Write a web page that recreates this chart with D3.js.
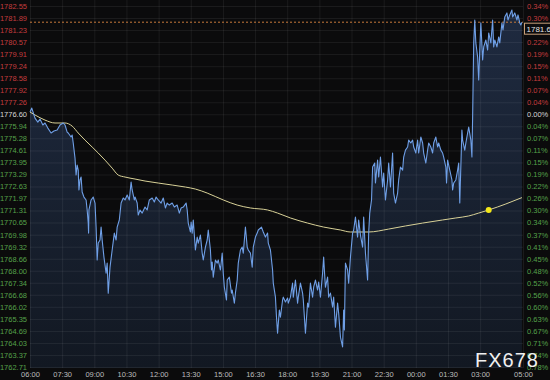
<!DOCTYPE html>
<html>
<head>
<meta charset="utf-8">
<script src="https://cdn.jsdelivr.net/npm/d3@7"></script>
<style>
  html, body { margin: 0; padding: 0; background: #0b0b0c; }
  svg { display: block; }
  text { font-family: "Liberation Sans", Arial, sans-serif; }
</style>
</head>
<body>
<div id="chart"></div>
<script>
// previous close / current quote
var prevClose = 1776.60
var lastPrice = 1781.66
var dotTime = "03:24"

var yTickLabels = ["1782.55","1781.89","1781.23","1780.57","1779.91","1779.24","1778.58","1777.92","1777.26","1776.60",
  "1775.94","1775.28","1774.61","1773.95","1773.29","1772.63","1771.97","1771.31","1770.65","1769.98",
  "1769.32","1768.66","1768.00","1767.34","1766.68","1766.02","1765.35","1764.69","1764.03","1763.37","1762.71"]
var pctTickLabels = ["0.34%","0.30%","0.26%","0.22%","0.19%","0.15%","0.11%","0.07%","0.04%","0.00%",
  "0.04%","0.07%","0.11%","0.15%","0.19%","0.22%","0.26%","0.30%","0.34%","0.37%",
  "0.41%","0.45%","0.48%","0.52%","0.56%","0.60%","0.63%","0.67%","0.71%","0.74%","0.78%"]
var xTickLabels = ["06:00","07:30","09:00","10:30","12:00","13:30","15:00","16:30","18:00","19:30",
  "21:00","22:30","00:00","01:30","03:00","05:00"]

var priceSeries = [
  ["06:00",1776.72],["06:05",1776.94],["06:14",1776.39],["06:22",1776.17],["06:28",1776.34],["06:36",1776.01],
  ["06:42",1776.12],["06:50",1775.84],["06:59",1775.57],["07:07",1775.68],["07:16",1775.73],["07:24",1776.01],
  ["07:33",1776.12],["07:38",1776.01],["07:44",1775.62],["07:47",1775.57],["07:55",1775.35],["07:58",1775.46],
  ["08:01",1775.02],["08:06",1774.19],["08:09",1773.26],["08:12",1773.81],["08:15",1773.53],["08:17",1772.44],
  ["08:20",1772.99],["08:23",1773.15],["08:26",1772.33],["08:31",1772.05],["08:37",1771.89],["08:40",1771.34],
  ["08:43",1770.62],["08:44",1770.07],["08:45",1771.34],["08:51",1771.89],["08:57",1772.05],["09:02",1771.72],
  ["09:05",1770.40],["09:08",1768.59],["09:11",1769.52],["09:16",1769.69],["09:19",1770.40],["09:22",1769.69],
  ["09:27",1768.75],["09:33",1767.87],["09:36",1768.42],["09:39",1766.77],["09:44",1768.20],["09:50",1769.14],
  ["09:56",1770.07],["10:01",1769.69],["10:04",1770.40],["10:10",1770.79],["10:15",1771.72],["10:21",1772.00],
  ["10:26",1771.89],["10:32",1772.16],["10:38",1771.89],["10:43",1772.88],["10:46",1772.44],["10:52",1771.89],
  ["10:54",1772.05],["11:00",1771.72],["11:03",1771.06],["11:08",1771.34],["11:14",1771.17],["11:22",1771.50],
  ["11:28",1771.34],["11:34",1771.89],["11:42",1772.00],["11:48",1771.78],["11:53",1772.05],["11:59",1771.89],
  ["12:07",1771.72],["12:13",1772.00],["12:19",1771.45],["12:24",1771.72],["12:30",1771.61],["12:38",1771.72],
  ["12:44",1771.50],["12:52",1771.61],["12:58",1771.17],["13:03",1771.45],["13:09",1771.50],["13:17",1771.72],
  ["13:20",1771.34],["13:23",1770.62],["13:29",1770.13],["13:31",1770.68],["13:34",1770.07],["13:37",1770.79],
  ["13:43",1769.14],["13:48",1769.85],["13:51",1769.52],["13:57",1769.96],["14:02",1768.97],["14:05",1768.59],
  ["14:11",1769.30],["14:16",1769.69],["14:19",1770.24],["14:25",1769.14],["14:28",1768.04],["14:30",1768.48],
  ["14:33",1767.65],["14:39",1768.59],["14:44",1768.42],["14:47",1768.59],["14:53",1768.04],["14:58",1768.97],
  ["15:01",1767.87],["15:04",1767.10],["15:10",1766.39],["15:12",1767.49],["15:18",1767.65],["15:24",1766.77],
  ["15:26",1766.94],["15:32",1766.22],["15:35",1766.77],["15:40",1767.49],["15:43",1768.42],["15:49",1769.14],
  ["15:54",1769.30],["15:57",1768.97],["16:03",1770.40],["16:08",1769.30],["16:11",1769.14],["16:17",1768.97],
  ["16:22",1768.20],["16:25",1769.30],["16:31",1769.85],["16:36",1770.07],["16:39",1770.24],["16:48",1770.40],
  ["16:53",1770.13],["16:59",1769.85],["17:05",1770.07],["17:07",1769.52],["17:13",1769.14],["17:19",1768.04],
  ["17:21",1767.32],["17:27",1766.55],["17:30",1765.45],["17:33",1764.57],["17:38",1765.84],["17:41",1765.45],
  ["17:47",1766.39],["17:49",1766.55],["17:55",1766.28],["18:01",1766.50],["18:03",1766.22],["18:09",1766.55],
  ["18:15",1767.32],["18:17",1766.55],["18:23",1767.49],["18:29",1766.22],["18:31",1766.55],["18:37",1767.32],
  ["18:43",1766.77],["18:45",1766.39],["18:51",1764.57],["18:57",1766.22],["19:00",1766.00],["19:05",1767.32],
  ["19:11",1766.55],["19:14",1767.10],["19:19",1767.49],["19:25",1766.94],["19:28",1767.38],["19:33",1766.55],
  ["19:39",1767.87],["19:42",1768.75],["19:44",1768.04],["19:47",1767.10],["19:53",1767.65],["19:56",1766.55],
  ["20:01",1766.77],["20:07",1766.00],["20:10",1766.55],["20:15",1764.90],["20:21",1766.22],["20:24",1765.67],
  ["20:29",1764.35],["20:35",1763.81],["20:38",1765.84],["20:40",1764.74],["20:43",1768.42],["20:49",1768.04],
  ["20:52",1767.32],["20:57",1768.75],["21:03",1770.07],["21:06",1770.24],["21:11",1770.95],["21:17",1769.85],
  ["21:20",1770.79],["21:25",1769.96],["21:31",1769.30],["21:34",1770.95],["21:39",1768.97],["21:45",1767.49],
  ["21:48",1770.07],["21:51",1771.17],["21:56",1771.89],["21:59",1773.70],["22:05",1773.92],["22:07",1772.82],
  ["22:13",1774.08],["22:16",1773.15],["22:21",1774.25],["22:27",1772.60],["22:30",1773.37],["22:35",1771.89],
  ["22:41",1772.99],["22:44",1773.92],["22:49",1772.60],["22:55",1774.47],["22:58",1772.27],["23:03",1771.72],
  ["23:09",1772.27],["23:12",1772.99],["23:17",1773.70],["23:23",1773.53],["23:26",1774.25],["23:31",1774.63],
  ["23:37",1774.80],["23:40",1775.18],["23:46",1775.02],["23:51",1775.18],["23:54",1774.80],["00:00",1774.47],
  ["00:05",1775.18],["00:08",1774.47],["00:14",1775.35],["00:19",1775.02],["00:22",1774.47],["00:28",1773.92],
  ["00:33",1774.63],["00:36",1775.02],["00:42",1774.80],["00:47",1774.47],["00:50",1775.02],["00:56",1775.35],
  ["01:01",1774.80],["01:04",1775.02],["01:10",1774.63],["01:15",1774.47],["01:18",1774.25],["01:24",1773.70],
  ["01:26",1772.82],["01:29",1774.08],["01:35",1773.53],["01:41",1772.99],["01:43",1772.44],["01:46",1772.82],
  ["01:52",1772.99],["01:57",1773.53],["02:00",1773.92],["02:03",1771.72],["02:09",1775.73],["02:11",1775.18],
  ["02:17",1774.63],["02:20",1775.02],["02:25",1775.57],["02:28",1775.90],["02:34",1775.18],["02:37",1774.25],
  ["02:39",1776.45],["02:42",1780.52],["02:45",1781.78],["02:48",1780.52],["02:53",1779.75],["02:56",1778.48],
  ["02:59",1780.13],["03:02",1781.62],["03:07",1779.58],["03:10",1780.30],["03:16",1780.68],["03:21",1780.13],
  ["03:24",1781.07],["03:30",1780.52],["03:35",1781.78],["03:38",1780.30],["03:41",1780.68],["03:47",1780.30],
  ["03:52",1780.85],["03:55",1780.52],["04:01",1781.62],["04:04",1781.23],["04:09",1781.95],["04:15",1782.17],
  ["04:18",1781.78],["04:23",1782.06],["04:29",1782.33],["04:31",1781.95],["04:37",1782.17],["04:43",1781.78],
  ["04:46",1782.06],["04:51",1781.62],["04:54",1781.51],["04:57",1781.66]
]

var avgSeries = [
  ["06:00",1776.72],["06:14",1776.56],["06:42",1776.28],["07:10",1776.12],["07:38",1776.12],["07:58",1775.95],
  ["08:15",1775.57],["08:34",1775.18],["08:54",1774.80],["09:11",1774.47],["09:30",1774.08],["09:50",1773.64],
  ["10:07",1773.26],["10:26",1773.15],["10:54",1773.04],["11:22",1772.93],["11:59",1772.82],["12:38",1772.71],
  ["13:15",1772.60],["13:43",1772.49],["14:16",1772.27],["15:01",1771.89],["15:40",1771.61],["16:17",1771.45],
  ["17:05",1771.34],["17:33",1771.17],["18:09",1770.90],["18:57",1770.62],["19:42",1770.40],["20:29",1770.24],
  ["20:57",1770.13],["21:20",1770.13],["21:48",1770.13],["22:44",1770.29],["23:31",1770.46],["00:19",1770.62],
  ["01:15",1770.79],["01:52",1770.90],["02:28",1771.01],["02:56",1771.17],["03:24",1771.34],["04:12",1771.67],
  ["04:57",1772.02]
]

var width = 550, height = 380
var plotLeft = 30, plotRight = 523, plotTop = 6, plotBottomTick = 367, plotBottom = 368
var fontSize = 7.5

// session runs 06:00 -> 05:00 next day
function toDate(s) {
  var p = s.split(":").map(Number)
  return new Date(2021, 0, p[0] < 6 ? 2 : 1, p[0], p[1])
}

var x = d3.scaleTime()
  .domain([toDate("06:00"), toDate("05:00")])
  .range([plotLeft, plotRight])

var y = d3.scaleLinear()
  .domain([+yTickLabels[yTickLabels.length - 1], +yTickLabels[0]])
  .range([plotBottomTick, plotTop])

var yTickValues = yTickLabels.map(Number)
var xTickValues = xTickLabels.map(toDate)

function labelColor(v) {
  if (Math.abs(v - prevClose) < 0.005) return "#d6d6d6"
  return v > prevClose ? "#c43c3e" : "#55a04a"
}

var svg = d3.select("#chart").append("svg")
  .attr("width", width)
  .attr("height", height)

svg.append("rect")
  .attr("width", width)
  .attr("height", height)
  .attr("fill", "#0b0b0c")

var defs = svg.append("defs")
var grad = defs.append("linearGradient")
  .attr("id", "areaFill")
  .attr("gradientUnits", "userSpaceOnUse")
  .attr("x1", 0).attr("y1", 0)
  .attr("x2", 0).attr("y2", plotBottom)
grad.append("stop").attr("offset", "0%").attr("stop-color", "#1f2b41")
grad.append("stop").attr("offset", "100%").attr("stop-color", "#121822")

// area under the price
var area = d3.area()
  .x(d => x(toDate(d[0])))
  .y0(plotBottom)
  .y1(d => y(d[1]))

svg.append("path")
  .datum(priceSeries)
  .attr("d", area)
  .attr("fill", "url(#areaFill)")

// grid
svg.append("g")
  .attr("transform", `translate(${plotLeft},0)`)
  .call(d3.axisLeft(y).tickValues(yTickValues).tickSize(-(plotRight - plotLeft)).tickFormat(""))
  .call(g => g.select(".domain").remove())
  .call(g => g.selectAll("line").attr("stroke", "#ffffff").attr("stroke-opacity", 0.065))

svg.append("g")
  .attr("transform", `translate(0,${plotBottom})`)
  .call(d3.axisBottom(x).tickValues(xTickValues).tickSize(-plotBottom).tickFormat(""))
  .call(g => g.select(".domain").remove())
  .call(g => g.selectAll("line").attr("stroke", "#ffffff").attr("stroke-opacity", 0.065))

// last price marker line
svg.append("line")
  .attr("x1", plotLeft).attr("x2", plotRight)
  .attr("y1", y(lastPrice)).attr("y2", y(lastPrice))
  .attr("stroke", "#c97a3c")
  .attr("stroke-dasharray", "2,2")
  .attr("stroke-width", 1)

// average price
var avgLine = d3.line()
  .x(d => x(toDate(d[0])))
  .y(d => y(d[1]))
  .curve(d3.curveMonotoneX)

svg.append("path")
  .datum(avgSeries)
  .attr("d", avgLine)
  .attr("fill", "none")
  .attr("stroke", "#d8d197")
  .attr("stroke-width", 1)

var priceLine = d3.line()
  .x(d => x(toDate(d[0])))
  .y(d => y(d[1]))

svg.append("path")
  .datum(priceSeries)
  .attr("d", priceLine)
  .attr("fill", "none")
  .attr("stroke", "#6f9fe6")
  .attr("stroke-width", 1.1)
  .attr("stroke-linejoin", "round")

var dotPoint = avgSeries.find(d => d[0] == dotTime)
svg.append("circle")
  .attr("cx", x(toDate(dotPoint[0])))
  .attr("cy", y(dotPoint[1]))
  .attr("r", 3)
  .attr("fill", "#f4e81a")

// left price axis
svg.append("g")
  .attr("transform", `translate(${plotLeft},0)`)
  .call(d3.axisLeft(y).tickValues(yTickValues).tickSize(0).tickPadding(3)
    .tickFormat((d, i) => yTickLabels[i]))
  .call(g => g.select(".domain").remove())
  .call(g => g.selectAll("text")
    .attr("font-size", fontSize)
    .attr("font-family", "Liberation Sans, Arial, sans-serif")
    .attr("fill", d => labelColor(d)))

// right percent axis; the label under the last-price box stays hidden
var boxY = y(lastPrice) + 1
svg.append("g")
  .attr("transform", `translate(${plotRight},0)`)
  .call(d3.axisRight(y).tickValues(yTickValues).tickSize(0).tickPadding(4)
    .tickFormat((d, i) => (y(d) > boxY && y(d) < boxY + 11) ? "" : pctTickLabels[i]))
  .call(g => g.select(".domain").remove())
  .call(g => g.selectAll("text")
    .attr("font-size", fontSize)
    .attr("font-family", "Liberation Sans, Arial, sans-serif")
    .attr("fill", d => labelColor(d)))

// time axis
svg.append("g")
  .attr("transform", `translate(0,${plotBottom})`)
  .call(d3.axisBottom(x).tickValues(xTickValues).tickSize(0).tickPadding(4)
    .tickFormat((d, i) => xTickLabels[i]))
  .call(g => g.select(".domain").remove())
  .call(g => g.selectAll("text")
    .attr("font-size", fontSize)
    .attr("font-family", "Liberation Sans, Arial, sans-serif")
    .attr("fill", "#bdbdbd"))

// last price box
svg.append("rect")
  .attr("x", plotRight + 1.5)
  .attr("y", boxY)
  .attr("width", 30)
  .attr("height", 11)
  .attr("fill", "#0b0b0c")
  .attr("stroke", "#c9a079")
  .attr("stroke-width", 1)

svg.append("text")
  .attr("x", plotRight + 3.5)
  .attr("y", boxY + 8.5)
  .attr("font-size", fontSize + 0.5)
  .attr("fill", "#e6e6e6")
  .text(lastPrice.toFixed(2))

// watermark
svg.append("text")
  .attr("x", 475)
  .attr("y", 367)
  .attr("font-size", 20)
  .attr("letter-spacing", 1)
  .attr("fill", "#f0f0f0")
  .text("FX678")
</script>
</body>
</html>
